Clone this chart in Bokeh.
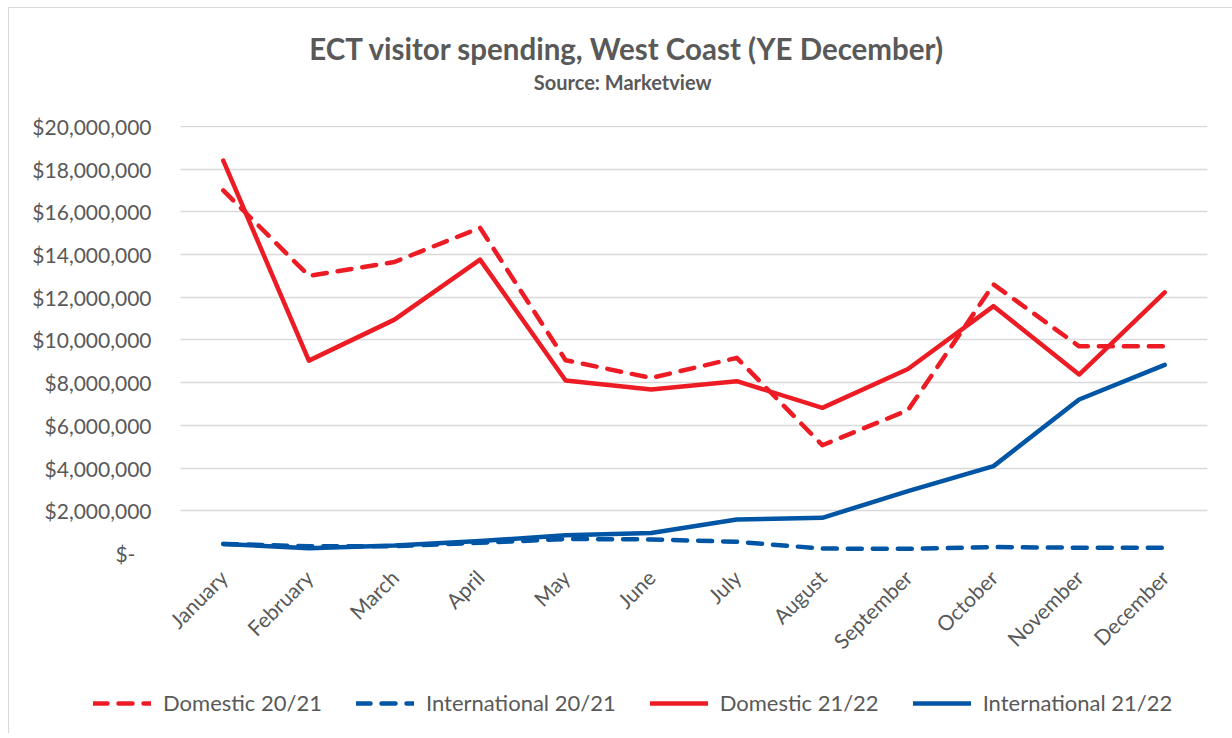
from bokeh.plotting import figure
from bokeh.models import FactorRange, Range1d, FixedTicker, Legend, LegendItem, Title
from bokeh.embed import file_html
from bokeh.resources import INLINE
from math import pi

months = ["January", "February", "March", "April", "May", "June", "July",
          "August", "September", "October", "November", "December"]

domestic_2021 = [17.0e6, 13.0e6, 13.65e6, 15.25e6, 9.05e6, 8.22e6, 9.16e6,
                 5.07e6, 6.71e6, 12.6e6, 9.7e6, 9.7e6]
international_2021 = [0.45e6, 0.34e6, 0.34e6, 0.50e6, 0.68e6, 0.66e6, 0.55e6,
                      0.23e6, 0.22e6, 0.30e6, 0.27e6, 0.27e6]
domestic_2122 = [18.4e6, 9.03e6, 10.95e6, 13.76e6, 8.1e6, 7.68e6, 8.07e6,
                 6.82e6, 8.64e6, 11.58e6, 8.38e6, 12.23e6]
international_2122 = [0.45e6, 0.25e6, 0.37e6, 0.58e6, 0.85e6, 0.96e6, 1.59e6,
                      1.67e6, 2.92e6, 4.09e6, 7.21e6, 8.83e6]

series_names = ["Domestic 20/21", "International 20/21", "Domestic 21/22", "International 21/22"]

y_ticks = [0, 2000000, 4000000, 6000000, 8000000, 10000000, 12000000,
           14000000, 16000000, 18000000, 20000000]
y_tick_labels = ["$-\u00a0\u00a0\u00a0", "$2,000,000", "$4,000,000", "$6,000,000",
                 "$8,000,000", "$10,000,000", "$12,000,000", "$14,000,000",
                 "$16,000,000", "$18,000,000", "$20,000,000"]

title_text = "ECT visitor spending, West Coast (YE December)"
subtitle_text = "Source: Marketview"

RED = "#ED1C24"
BLUE = "#0056A4"
GREY = "#595959"
FONT = "Lato"
colors = [RED, BLUE, RED, BLUE]
dashes = ["14 11", "14 11", "solid", "solid"]
all_series = [domestic_2021, international_2021, domestic_2122, international_2122]

p = figure(x_range=FactorRange(*months), y_range=Range1d(0, 20.04e6),
           frame_width=1027, frame_height=428,
           min_border_left=171, min_border_right=25,
           min_border_top=117, min_border_bottom=120,
           output_backend="svg", toolbar_location=None, title=None)
p.styles = {"margin-left": "8px", "margin-top": "7px",
            "border-left": "1px solid #D9D9D9", "border-top": "1px solid #D9D9D9"}
p.outline_line_color = None

p.ygrid.grid_line_color = "#D9D9D9"
p.ygrid.grid_line_width = 1.5
p.xgrid.grid_line_color = None

p.yaxis.ticker = FixedTicker(ticks=y_ticks)
p.yaxis.major_label_overrides = {t: l for t, l in zip(y_ticks, y_tick_labels)}
for ax in (p.xaxis, p.yaxis):
    ax.axis_line_color = None
    ax.major_tick_line_color = None
    ax.minor_tick_line_color = None
    ax.major_tick_out = 0
    ax.major_tick_in = 0
    ax.major_label_text_font = FONT
    ax.major_label_text_color = GREY
    ax.major_label_text_font_size = "21px"
p.yaxis.major_label_standoff = 29
p.xaxis.major_label_orientation = pi / 4
p.xaxis.major_label_standoff = 20

kw = dict(line_width=4.5, line_cap="round", line_join="round")
for vals, c, d in zip(all_series, colors, dashes):
    p.line(months, vals, line_color=c, line_dash=d, **kw)

# spacer between plot area and subtitle
p.add_layout(Title(text=" ", standoff=18, text_font=FONT, text_font_size="10px"), "above")
p.add_layout(Title(text=subtitle_text, align="right", offset=496, standoff=0,
                   text_font=FONT, text_font_size="20px", text_font_style="bold",
                   text_color=GREY), "above")
p.add_layout(Title(text=title_text, align="right", offset=262, standoff=3,
                   text_font=FONT, text_font_size="29.5px", text_font_style="bold",
                   text_color=GREY), "above")

# legend strip below the chart (separate root, series drawn out of view so only the legend shows)
lg = figure(width=1223, height=60, x_range=FactorRange(*months),
            y_range=Range1d(-4e7, -3e7),
            x_axis_location=None, y_axis_location=None,
            min_border_left=0, min_border_right=0, min_border_top=0, min_border_bottom=0,
            output_backend="svg", toolbar_location=None, title=None)
lg.styles = {"margin-left": "8px", "border-left": "1px solid #D9D9D9"}
lg.grid.visible = False
lg.outline_line_color = None
items = []
for name, vals, c, d in zip(series_names, all_series, colors, dashes):
    r = lg.line(months, vals, line_color=c, line_dash=d, **kw)
    items.append(LegendItem(label=name, renderers=[r]))
legend = Legend(items=items, orientation="horizontal", location=(84, 17),
                glyph_width=58, glyph_height=20, label_standoff=12, spacing=34,
                padding=0, margin=0, border_line_color=None,
                background_fill_alpha=0,
                label_text_font=FONT, label_text_font_size="22px",
                label_text_color=GREY)
lg.add_layout(legend, "center")

open("out.html", "w").write(file_html([p, lg], INLINE))
